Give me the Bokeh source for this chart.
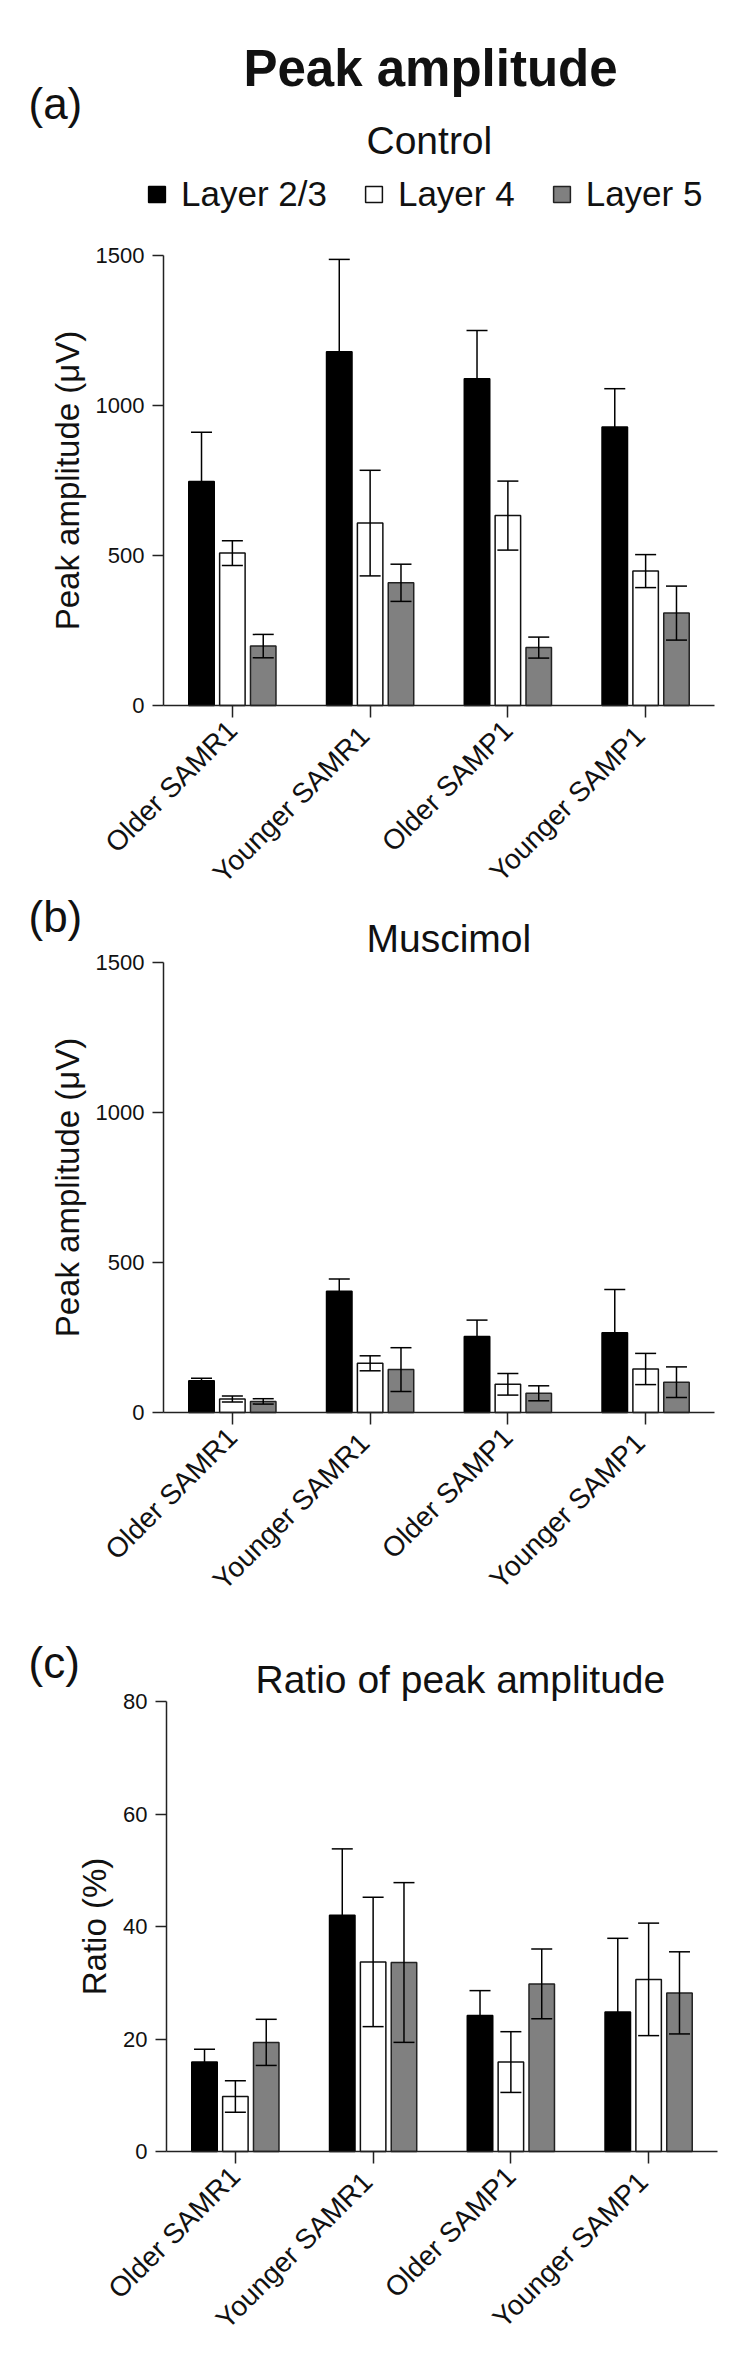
import math
from bokeh.plotting import figure
from bokeh.models import (Range1d, FixedTicker, Whisker, TeeHead,
                          ColumnDataSource, Label, Legend, LegendItem)
from bokeh.transform import dodge
from bokeh.layouts import column
from bokeh.embed import file_html
from bokeh.resources import INLINE

# ---------------- data ----------------
groups = ["Older SAMR1", "Younger  SAMR1", "Older SAMP1", "Younger  SAMP1"]
layers = ["Layer 2/3", "Layer 4", "Layer 5"]

# (a) Control, peak amplitude (uV), mean and SEM
control_l23 = [747, 1179, 1089, 928]
control_l23_err = [164, 308, 161, 128]
control_l4 = [508, 608, 633, 448]
control_l4_err = [41, 176, 115, 55]
control_l5 = [198, 409, 193, 308]
control_l5_err = [39, 62, 35, 90]

# (b) Muscimol, peak amplitude (uV)
musc_l23 = [106, 404, 253, 266]
musc_l23_err = [8, 41, 55, 144]
musc_l4 = [45, 164, 94, 145]
musc_l4_err = [10, 25, 36, 52]
musc_l5 = [37, 143, 64, 101]
musc_l5_err = [9, 73, 25, 51]

# (c) Ratio of peak amplitude (%)
ratio_l23 = [15.9, 42.0, 24.2, 24.8]
ratio_l23_err = [2.3, 11.8, 4.4, 13.1]
ratio_l4 = [9.8, 33.7, 15.9, 30.6]
ratio_l4_err = [2.8, 11.5, 5.4, 10.0]
ratio_l5 = [19.4, 33.6, 29.8, 28.2]
ratio_l5_err = [4.1, 14.2, 6.2, 7.3]

amp_ticks = [0, 500, 1000, 1500]
ratio_ticks = [0, 20, 40, 60, 80]

# ---------------- style ----------------
FONT = "Liberation Sans"
TXT = "#111111"
AX = "#222222"
FILLS = ["#000000", "#ffffff", "#808080"]
LINES = ["#000000", "#111111", "#222222"]
OFFS = [-0.224, 0.0, 0.224]
BAR_W = 0.185
FIG_W = 739
GROUP_PX = 137.75          # pixels per group slot
BASE_SHIFT = 0.30          # baseline correction (fraction of font size)

xpos = [i + 0.5 for i in range(len(groups))]


class Panel:
    """One panel; its frame covers the whole canvas, axes are pinned."""

    def __init__(self, top, height, frame_left, y0_px, px_per_unit, ymax,
                 ticks, ylabel, means, errs):
        self.top, self.height = top, height
        self.fl, self.y0, self.ypx = frame_left, y0_px, px_per_unit
        x_start = -frame_left / GROUP_PX
        x_end = (FIG_W - frame_left) / GROUP_PX
        y_end = (y0_px - top) / px_per_unit
        y_start = -(top + height - y0_px) / px_per_unit
        p = figure(width=FIG_W, height=height,
                   x_range=Range1d(x_start, x_end),
                   y_range=Range1d(y_start, y_end),
                   output_backend="svg", toolbar_location=None,
                   min_border=0, min_border_left=0, min_border_right=0,
                   min_border_top=0, min_border_bottom=0)
        p.xgrid.visible = False
        p.ygrid.visible = False
        p.outline_line_color = None
        p.background_fill_color = "white"
        p.border_fill_color = "white"

        ya = p.yaxis[0]
        ya.fixed_location = 0
        ya.bounds = (0, ymax)
        ya.ticker = FixedTicker(ticks=ticks)
        ya.major_tick_out = 11
        ya.major_tick_in = 0
        ya.minor_tick_out = 0
        ya.minor_tick_in = 0
        ya.major_label_text_font_size = "22px"
        ya.major_label_standoff = 8
        ya.axis_label = ylabel
        ya.axis_label_text_font = FONT
        ya.axis_label_text_font_size = "33px"
        ya.axis_label_text_font_style = "normal"
        ya.axis_label_text_color = TXT
        ya.axis_label_standoff = 7

        xa = p.xaxis[0]
        xa.fixed_location = 0
        xa.bounds = (0, len(groups))
        xa.ticker = FixedTicker(ticks=xpos)
        xa.major_label_overrides = {x: g for x, g in zip(xpos, groups)}
        xa.major_tick_out = 12
        xa.major_tick_in = 0
        xa.minor_tick_out = 0
        xa.minor_tick_in = 0
        xa.major_label_orientation = math.pi / 4
        xa.major_label_text_font_size = "28px"
        xa.major_label_standoff = 8

        for ax in (xa, ya):
            ax.axis_line_width = 1.5
            ax.axis_line_color = AX
            ax.major_tick_line_width = 1.5
            ax.major_tick_line_color = AX
            ax.major_label_text_font = FONT
            ax.major_label_text_color = TXT

        data = {"x": xpos}
        for i in range(3):
            data[f"m{i}"] = means[i]
            data[f"u{i}"] = [m + e for m, e in zip(means[i], errs[i])]
            data[f"l{i}"] = [m - e for m, e in zip(means[i], errs[i])]
        src = ColumnDataSource(data)

        self.bars = []
        for i in range(3):
            r = p.vbar(x=dodge("x", OFFS[i]), top=f"m{i}", width=BAR_W,
                       source=src, fill_color=FILLS[i], line_color=LINES[i],
                       line_width=1.5)
            self.bars.append(r)
        for i in range(3):
            p.add_layout(Whisker(
                base=dodge("x", OFFS[i]), upper=f"u{i}", lower=f"l{i}",
                source=src, level="overlay", line_color="#000000",
                line_width=1.5,
                upper_head=TeeHead(size=21, line_color="#000000", line_width=1.5),
                lower_head=TeeHead(size=21, line_color="#000000", line_width=1.5)))
        self.p = p

    def text(self, X, Y, text, size, bold=False, align="left"):
        """Text whose baseline sits at page pixel (X, Y)."""
        Yb = Y - BASE_SHIFT * size
        self.p.add_layout(Label(
            x=(X - self.fl) / GROUP_PX, y=(self.y0 - Yb) / self.ypx,
            text=text, text_font=FONT, text_font_size=f"{size}px",
            text_font_style="bold" if bold else "normal",
            text_align=align, text_baseline="alphabetic", text_color=TXT))


# ---------------- panel (a): page y 0..891 ----------------
A = Panel(0, 891, 163, 705, 0.3, 1500, amp_ticks, "Peak amplitude (\u03bcV)",
          [control_l23, control_l4, control_l5],
          [control_l23_err, control_l4_err, control_l5_err])
A.text(430, 83, "Peak amplitude", 51, bold=True, align="center")
A.text(28, 116, "(a)", 44)
A.text(366, 152, "Control", 39)
legend = Legend(items=[LegendItem(label=layers[i], renderers=[A.bars[i]])
                       for i in range(3)],
                orientation="horizontal", location=(146, 891 - 214),
                padding=0, spacing=36, glyph_width=21, glyph_height=20,
                label_standoff=14, label_text_font=FONT,
                label_text_font_size="35px", label_text_color=TXT,
                border_line_color=None, background_fill_alpha=0, margin=0)
A.p.add_layout(legend)

# ---------------- panel (b): page y 891..1600 ----------------
B = Panel(891, 709, 163, 1412, 0.3, 1500, amp_ticks, "Peak amplitude (\u03bcV)",
          [musc_l23, musc_l4, musc_l5],
          [musc_l23_err, musc_l4_err, musc_l5_err])
B.text(28, 929, "(b)", 44)
B.text(366, 950, "Muscimol", 39)

# ---------------- panel (c): page y 1600..2361 ----------------
C = Panel(1600, 761, 166, 2151, 450 / 80, 80, ratio_ticks, "Ratio (%)",
          [ratio_l23, ratio_l4, ratio_l5],
          [ratio_l23_err, ratio_l4_err, ratio_l5_err])
C.text(28, 1675, "(c)", 44)
C.text(255, 1691, "Ratio of peak amplitude", 39)

layout = column(A.p, B.p, C.p)
open("out.html", "w").write(file_html(layout, INLINE))
